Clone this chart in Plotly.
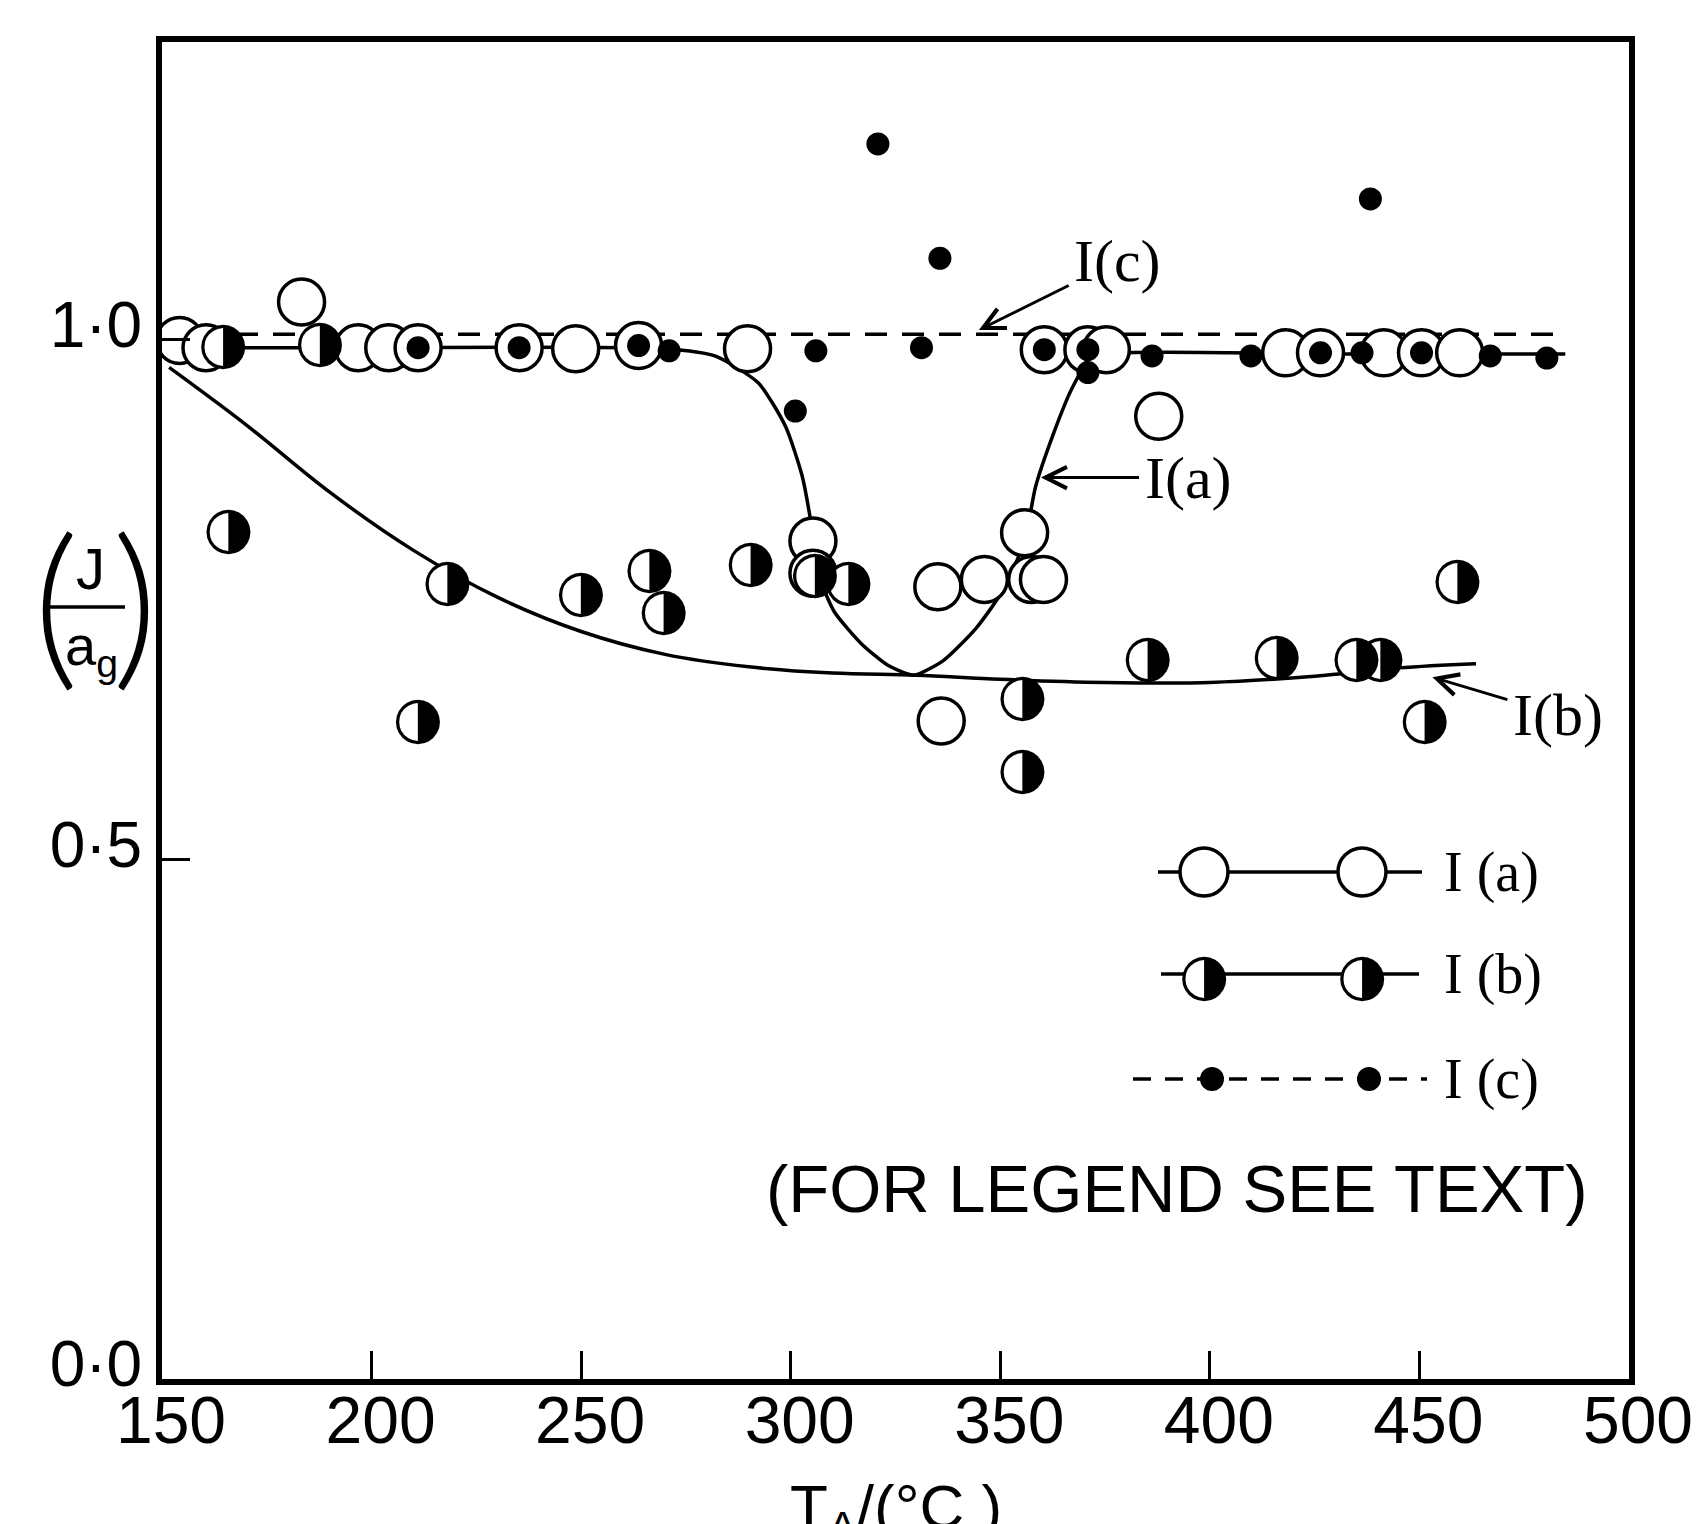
import plotly.graph_objects as go

# ---------------- data ----------------
# I(a): open circles
ia_x = [154.2, 160.5, 183.3, 196.8, 204.1, 211.1, 235.2, 248.7, 263.7, 289.7,
        305.3, 305.3, 335.1, 346.2, 355.8, 357.5, 360.3, 335.9, 387.8,
        360.5, 370.9, 375.3, 418.1, 426.4, 441.5, 450.5, 459.6]
ia_y = [0.999, 0.992, 1.036, 0.992, 0.992, 0.992, 0.992, 0.991, 0.994, 0.991,
        0.806, 0.775, 0.762, 0.769, 0.814, 0.769, 0.769, 0.633, 0.926,
        0.990, 0.990, 0.990, 0.987, 0.987, 0.987, 0.987, 0.987]

# I(b): half-filled circles
ib_x = [164.6, 187.7, 165.9, 218.1, 250.0, 266.3, 269.7, 290.5, 305.8, 313.8,
        211.1, 355.3, 355.3, 385.2, 416.0, 435.0, 440.7, 451.3, 459.1]
ib_y = [0.992, 0.994, 0.814, 0.764, 0.754, 0.777, 0.736, 0.782, 0.772, 0.764,
        0.631, 0.654, 0.583, 0.691, 0.693, 0.691, 0.691, 0.631, 0.766]

# I(c): small filled dots
ic_x = [320.8, 335.6, 438.3, 301.1, 271.0, 306.0, 331.2, 370.9, 386.2, 409.8,
        436.3, 466.9, 480.4, 211.1, 235.2, 263.7, 360.5, 370.9, 426.4, 450.5]
ic_y = [1.188, 1.078, 1.135, 0.931, 0.989, 0.989, 0.992, 0.968, 0.984, 0.984,
        0.987, 0.984, 0.982, 0.992, 0.992, 0.994, 0.990, 0.990, 0.987, 0.987]

# drawn curves
curve_a_x = [150.0, 200.0, 270.0, 281.9, 292.3, 298.8, 302.7, 304.7, 306.5, 310.4,
             316.9, 323.4, 329.4, 336.4, 344.2, 350.7, 355.8, 358.4, 362.3, 367.0,
             370.9, 375.3, 430.0, 484.8]
curve_a_y = [0.992, 0.992, 0.991, 0.984, 0.958, 0.916, 0.869, 0.827, 0.775, 0.738,
             0.707, 0.686, 0.677, 0.691, 0.722, 0.759, 0.806, 0.858, 0.905, 0.952,
             0.978, 0.986, 0.986, 0.986]

curve_b_x = [151.7, 170.0, 190.0, 210.0, 230.0, 250.0, 270.0, 290.0,
             310.0, 330.0, 350.0, 375.0, 400.0, 425.0, 445.0, 463.5]
curve_b_y = [0.973, 0.918, 0.853, 0.797, 0.752, 0.719, 0.697, 0.685,
             0.679, 0.677, 0.673, 0.670, 0.670, 0.676, 0.684, 0.688]

curve_c_x = [150.0, 484.8]
curve_c_y = [1.005, 1.005]

x_ticks = [150, 200, 250, 300, 350, 400, 450, 500]
y_ticks = [0.0, 0.5, 1.0]
y_ticktext = ["0·0", "0·5", "1·0"]

series_names = ["I (a)", "I (b)", "I (c)"]

# ---------------- figure ----------------
SANS = "Liberation Sans"
SERIF = "Liberation Serif"
GLYPH = "DejaVu Sans"
HALF = "\u25D1"
HALF_SIZE = 58

fig = go.Figure()

fig.add_trace(go.Scatter(x=curve_b_x, y=curve_b_y, mode="lines",
                         line=dict(color="black", width=3.5, shape="spline", smoothing=1.0),
                         showlegend=False, hoverinfo="skip"))
fig.add_trace(go.Scatter(x=curve_a_x, y=curve_a_y, mode="lines",
                         line=dict(color="black", width=3.5, shape="spline", smoothing=0.6),
                         showlegend=False, hoverinfo="skip"))
fig.add_trace(go.Scatter(x=curve_c_x, y=curve_c_y, mode="lines",
                         line=dict(color="black", width=3.5, dash="22px,15px"),
                         showlegend=False, hoverinfo="skip"))

fig.add_trace(go.Scatter(x=ia_x, y=ia_y, mode="markers", name=series_names[0],
                         marker=dict(symbol="circle", size=46, color="white",
                                     line=dict(color="black", width=3.5)),
                         showlegend=False))
fig.add_trace(go.Scatter(x=ib_x, y=ib_y, mode="markers+text", name=series_names[1],
                         text=[HALF] * len(ib_x), textposition="middle center",
                         textfont=dict(family=GLYPH, size=HALF_SIZE, color="black"),
                         marker=dict(symbol="circle", size=40, color="white",
                                     line=dict(width=0)),
                         showlegend=False))
fig.add_trace(go.Scatter(x=ic_x, y=ic_y, mode="markers", name=series_names[2],
                         marker=dict(symbol="circle", size=23, color="black",
                                     line=dict(width=0)),
                         showlegend=False))

L, R, T, B = 154, 84, 34, 153
W, H = 1705, 1524
pw, ph = W - L - R, H - T - B


def px(xp):
    return (xp - L) / pw


def py(yp):
    return (H - B - yp) / ph


shapes = []
annotations = []

# ---- hand-drawn legend block (layout only) ----
rows = [  # (y pixel, line x0, line x1, marker xs, dash)
    (864, 1150, 1414, (1196, 1354), "solid"),
    (966, 1153, 1411, (1196, 1354), "solid"),
    (1071, 1125, 1419, (1204, 1361), "dash"),
]
for i, (yy, x0, x1, mks, dash) in enumerate(rows):
    shapes.append(dict(type="line", xref="paper", yref="paper",
                       x0=px(x0), x1=px(x1), y0=py(yy), y1=py(yy),
                       line=dict(color="black", width=3.5,
                                 dash="solid" if dash == "solid" else "18px,14px"),
                       layer="above"))
    for mx in mks:
        if i == 0:
            r = 24
            shapes.append(dict(type="circle", xref="paper", yref="paper",
                               xsizemode="pixel", ysizemode="pixel",
                               xanchor=px(mx), yanchor=py(yy),
                               x0=-r, x1=r, y0=-r, y1=r,
                               fillcolor="white", line=dict(color="black", width=3.5),
                               layer="above"))
        elif i == 1:
            r = 20
            shapes.append(dict(type="circle", xref="paper", yref="paper",
                               xsizemode="pixel", ysizemode="pixel",
                               xanchor=px(mx), yanchor=py(yy),
                               x0=-r, x1=r, y0=-r, y1=r,
                               fillcolor="white", line=dict(width=0),
                               layer="above"))
            annotations.append(dict(xref="paper", yref="paper", x=px(mx), y=py(yy),
                                    text=HALF, showarrow=False,
                                    xanchor="center", yanchor="middle",
                                    font=dict(family=GLYPH, size=HALF_SIZE, color="black")))
        else:
            r = 12
            shapes.append(dict(type="circle", xref="paper", yref="paper",
                               xsizemode="pixel", ysizemode="pixel",
                               xanchor=px(mx), yanchor=py(yy),
                               x0=-r, x1=r, y0=-r, y1=r,
                               fillcolor="black", line=dict(width=0),
                               layer="above"))
    annotations.append(dict(xref="paper", yref="paper", x=px(1434), y=py(yy),
                            text=series_names[i], showarrow=False,
                            xanchor="left", yanchor="middle",
                            font=dict(family=SERIF, size=56, color="black")))

annotations.append(dict(xref="paper", yref="paper", x=px(1169), y=py(1180),
                        text="(FOR LEGEND SEE TEXT)", showarrow=False,
                        xanchor="center", yanchor="middle",
                        font=dict(family=SANS, size=67, color="black")))

# ---- curve labels with arrows ----
curve_labels = [  # text, head x, head y, text x, text y
    ("I(c)", 344.9, 1.009, 377.9, 1.075),
    ("I(a)", 359.7, 0.867, 394.8, 0.867),
    ("I(b)", 453.1, 0.675, 483.0, 0.639),
]
for txt, hx, hy, tx, ty in curve_labels:
    annotations.append(dict(x=hx, y=hy, ax=tx, ay=ty, xref="x", yref="y",
                            axref="x", ayref="y", text=txt, showarrow=True,
                            arrowhead=5, arrowsize=1.4, arrowwidth=3,
                            arrowcolor="black", standoff=0, startstandoff=4,
                            font=dict(family=SERIF, size=60, color="black")))

# ---- y-axis title: (J / a_g) ----
annotations += [
    dict(xref="paper", yref="paper", x=px(48), y=py(590), text="(", showarrow=False,
         xanchor="center", yanchor="middle",
         font=dict(family="Lato", size=178, color="black", weight=300)),
    dict(xref="paper", yref="paper", x=px(127), y=py(590), text=")", showarrow=False,
         xanchor="center", yanchor="middle",
         font=dict(family="Lato", size=178, color="black", weight=300)),
    dict(xref="paper", yref="paper", x=px(82), y=py(560), text="J", showarrow=False,
         xanchor="center", yanchor="middle",
         font=dict(family=SANS, size=58, color="black")),
    dict(xref="paper", yref="paper", x=px(83), y=py(641), text="a<sub>g</sub>",
         showarrow=False, xanchor="center", yanchor="middle",
         font=dict(family=SANS, size=56, color="black")),
]
shapes.append(dict(type="line", xref="paper", yref="paper",
                   x0=px(42), x1=px(117), y0=py(599), y1=py(599),
                   line=dict(color="black", width=3.5)))

# ---- x-axis title (cut by the page edge as in the original) ----
annotations.append(dict(xref="paper", yref="paper", x=px(888), y=py(1462),
                        text="T<sub>A</sub>/(°C )", showarrow=False,
                        xanchor="center", yanchor="top",
                        font=dict(family=SANS, size=62, color="black")))

fig.update_layout(
    width=W, height=H,
    margin=dict(l=L, r=R, t=T, b=B, pad=0),
    paper_bgcolor="white", plot_bgcolor="white",
    showlegend=False,
    shapes=shapes, annotations=annotations,
    xaxis=dict(range=[150, 500], tickvals=x_ticks, ticks="inside", ticklen=28,
               tickwidth=3, tickcolor="black", showline=True, linewidth=6,
               linecolor="black", mirror=True, showgrid=False, zeroline=False,
               tickfont=dict(family=SANS, size=66, color="black"),
               ticklabelstandoff=-21, ticklabelshift=9),
    yaxis=dict(range=[0, 1.286], tickvals=y_ticks, ticktext=y_ticktext,
               ticks="inside", ticklen=28, tickwidth=3, tickcolor="black",
               showline=True, linewidth=6, linecolor="black", mirror=True,
               showgrid=False, zeroline=False,
               tickfont=dict(family=SANS, size=64, color="black"),
               ticklabelstandoff=1, ticklabelshift=-15),
)

fig.write_html("out.html")
